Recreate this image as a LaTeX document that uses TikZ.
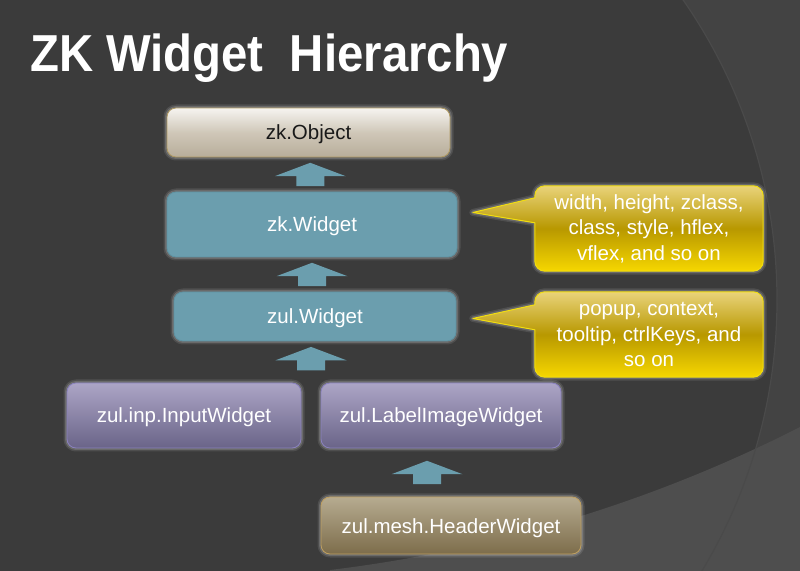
\documentclass[tikz,border=0pt]{standalone}
\usepackage{fontspec}
\setmainfont{Liberation Sans}
\usetikzlibrary{calc}

\definecolor{bgdark}{HTML}{3B3B3B}
\definecolor{bgright}{HTML}{434343}
\definecolor{bgband}{HTML}{4E4E4E}
\definecolor{bgedge}{HTML}{4A4A4A}
\definecolor{objtop}{HTML}{F6F4F0}
\definecolor{objmid}{HTML}{CFC7B8}
\definecolor{objbot}{HTML}{B7AD9A}
\definecolor{objline}{HTML}{B09A62}
\definecolor{widfill}{HTML}{6B9EAE}
\definecolor{widline}{HTML}{5F93A3}
\definecolor{inptop}{HTML}{ACA5C6}
\definecolor{inpbot}{HTML}{6A6488}
\definecolor{inpline}{HTML}{8B82C0}
\definecolor{hdrtop}{HTML}{B6AB90}
\definecolor{hdrbot}{HTML}{7D6D4B}
\definecolor{hdrline}{HTML}{C0A060}
\definecolor{notetop}{HTML}{E9D37A}
\definecolor{notemid}{HTML}{B89800}
\definecolor{notebot}{HTML}{F6D700}
\definecolor{noteline}{HTML}{F2DE10}

\tikzset{
  glow/.style={preaction={draw=white, draw opacity=.10, line width=7pt, line join=round},
               preaction={draw=white, draw opacity=.16, line width=4pt, line join=round}},
  basebox/.style={glow, rounded corners=9pt, line width=0.8pt, inner sep=0pt,
                  text height=15pt, text depth=0pt,
                  text=white, font=\fontsize{20.5}{24}\selectfont},
  objbox/.style={basebox, draw=objline, top color=objtop, bottom color=objbot,
                 middle color=objmid, text=black!90},
  widbox/.style={basebox, draw=widline, fill=widfill},
  inpbox/.style={basebox, draw=inpline, top color=inptop, bottom color=inpbot},
  hdrbox/.style={basebox, draw=hdrline, top color=hdrtop, bottom color=hdrbot},
  noteframe/.style={minimum width=228pt, minimum height=85pt, inner sep=0pt},
  notebox/.style={glow, draw=noteline, line width=1pt, line join=round, top color=notetop,
                  bottom color=notebot, middle color=notemid},
  notetext/.style={text=white, align=center, inner sep=0pt,
                   font=\fontsize{20.5}{25.5}\selectfont},
  inharr/.pic={\fill[widfill] (-14,-11.7) -- (14,-11.7) -- (14,-1.7) -- (35.5,-1.7)
                 -- (0,11.7) -- (-35.5,-1.7) -- (-14,-1.7) -- cycle;}
}

\begin{document}
\begin{tikzpicture}[x=1pt, y=1pt]
  \useasboundingbox (0,0) rectangle (800,570);

  % background with the two big arcs
  \fill[bgright] (-2,-2) rectangle (802,572);
  \begin{scope}
    \clip (0,0) rectangle (800,570);
    \fill[bgdark] (251,270) circle[radius=526];
    \fill[bgband] (330,0) arc[start angle=-83.09, end angle=-60, radius=1413]
      -- (880,-20) -- (330,-20) -- cycle;
    \draw[bgedge, line width=1.2pt] (251,270) circle[radius=526];
  \end{scope}

  % title
  \node[anchor=base west, inner sep=0pt, text=white, xscale=0.91,
        font=\fontsize{52}{60}\selectfont\bfseries] (title) at (30,498) {ZK Widget\ \ Hierarchy};

  % class boxes
  \node[objbox, minimum width=283pt, minimum height=49pt] (zkObj) at (308.5,437.5) {zk.Object};
  \node[widbox, minimum width=290pt, minimum height=65pt] (zkWid) at (312,345.5) {zk.Widget};
  \node[widbox, minimum width=282pt, minimum height=49pt] (zulWid) at (315,253.5) {zul.Widget};
  \node[inpbox, minimum width=234pt, minimum height=65pt] (inpWid) at (184,154.5) {zul.inp.InputWidget};
  \node[inpbox, minimum width=240pt, minimum height=65pt] (lblWid) at (441,154.5) {zul.LabelImageWidget};
  \node[hdrbox, minimum width=260pt, minimum height=57pt] (hdrWid) at (451,44.5) {zul.mesh.HeaderWidget};

  % inheritance arrows
  \pic at ($(zkWid.north)!0.5!(zkObj.south)$) {inharr};
  \pic at ($(zulWid.north)!0.5!(zkWid.south)+(-1.5,0)$) {inharr};
  \pic at ($(inpWid.north east)!0.5!(lblWid.north west)+(0,24)$) {inharr};
  \pic at ($(hdrWid.north)!0.5!(lblWid.south)+(-19,0)$) {inharr};

  % callouts
  \node[noteframe] (noteA) at (649,341.5) {};
  \draw[notebox] ($(noteA.west)+(-62,16)$) -- ($(noteA.north west)+(0,-37)$)
    -- ($(noteA.south west)+(0,10)$) arc[start angle=180, end angle=270, radius=10pt]
    -- ($(noteA.south east)+(-10,0)$) arc[start angle=270, end angle=360, radius=10pt]
    -- ($(noteA.north east)+(0,-10)$) arc[start angle=0, end angle=90, radius=10pt]
    -- ($(noteA.north west)+(10,0)$) arc[start angle=90, end angle=180, radius=10pt]
    -- ($(noteA.north west)+(0,-12)$) -- cycle;
  \node[notetext] (noteAtext) at (noteA) {width, height, zclass,\\class, style, hflex,\\vflex, and so on};

  \node[noteframe] (noteB) at (649,235.5) {};
  \draw[notebox] ($(noteB.west)+(-62,16)$) -- ($(noteB.north west)+(0,-38)$)
    -- ($(noteB.south west)+(0,10)$) arc[start angle=180, end angle=270, radius=10pt]
    -- ($(noteB.south east)+(-10,0)$) arc[start angle=270, end angle=360, radius=10pt]
    -- ($(noteB.north east)+(0,-10)$) arc[start angle=0, end angle=90, radius=10pt]
    -- ($(noteB.north west)+(10,0)$) arc[start angle=90, end angle=180, radius=10pt]
    -- ($(noteB.north west)+(0,-13)$) -- cycle;
  \node[notetext] (noteBtext) at (noteB) {popup, context,\\tooltip, ctrlKeys, and\\so on};
\end{tikzpicture}
\end{document}
